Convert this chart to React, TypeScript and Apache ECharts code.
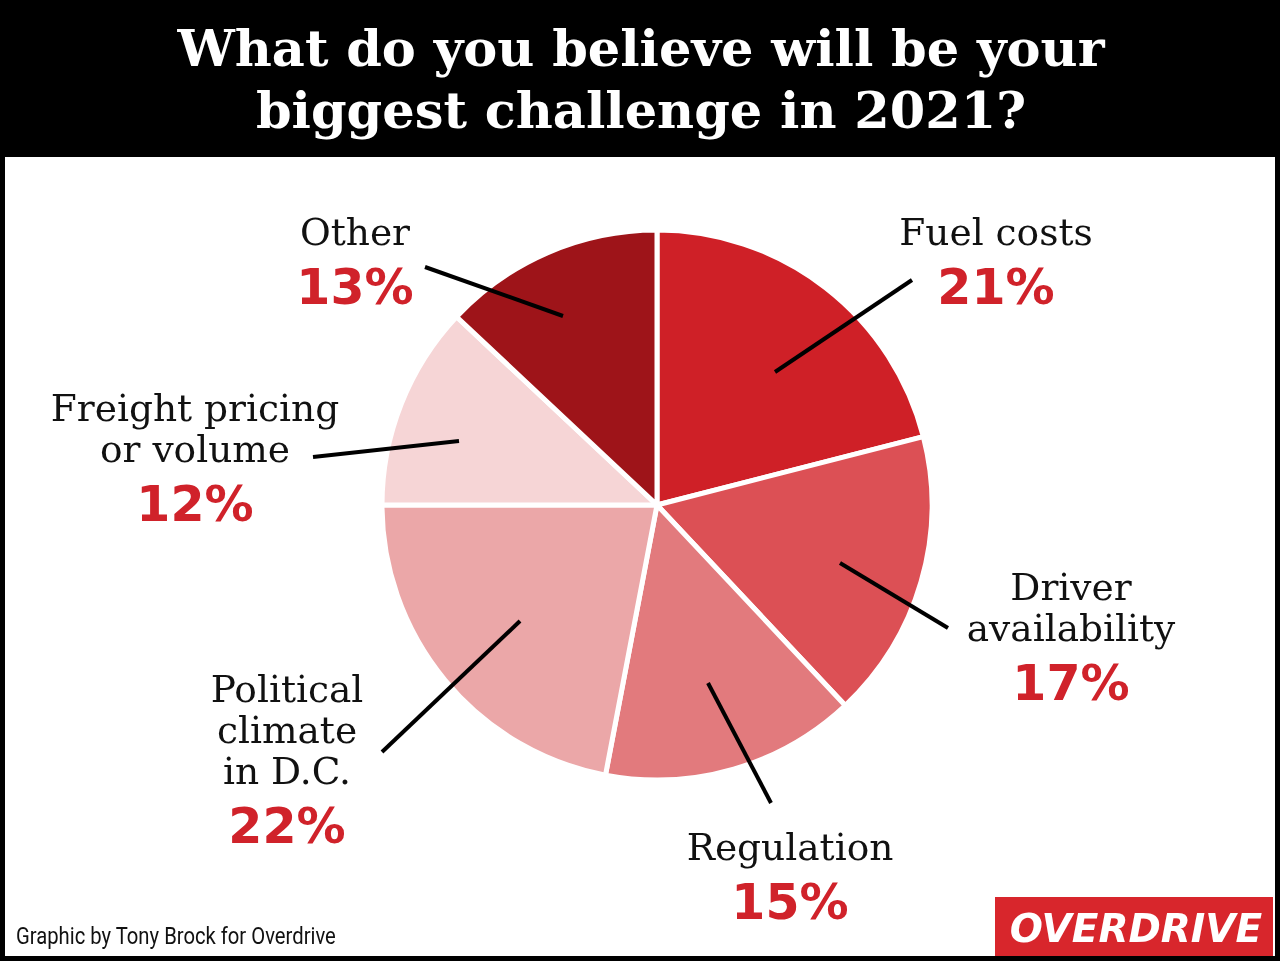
import React, { useEffect, useRef } from "react";
import * as echarts from "echarts";

const categories = ["Fuel costs", "Driver availability", "Regulation", "Political climate in D.C.", "Freight pricing or volume", "Other"];
const values = [21, 17, 15, 22, 12, 13];
const labelLines = [["Fuel costs"], ["Driver", "availability"], ["Regulation"], ["Political", "climate", "in D.C."], ["Freight pricing", "or volume"], ["Other"]];
const sliceColors = ["#cf2027", "#dc5055", "#e27a7d", "#eba7a8", "#f6d5d6", "#9e1419"];
const titleLines = ["What do you believe will be your", "biggest challenge in 2021?"];
const credit = "Graphic by Tony Brock for Overdrive";
const logoText = "OVERDRIVE";

// layout (label anchors and leader-line ends), px
const CX = 657, CY = 505, R = 275;
const labelLayout = [
  { x: 996, y: 232, line: [[775, 372], [912, 280]] },
  { x: 1071, y: 587, line: [[840, 563], [948, 628]] },
  { x: 790, y: 847, line: [[708, 683], [771, 803]] },
  { x: 287, y: 689, line: [[520, 621], [382, 752]] },
  { x: 195, y: 408, line: [[459, 441], [313, 457]] },
  { x: 355, y: 232, line: [[563, 316], [425, 267]] },
];
const LINE_GAP = 41;

export default function App() {
  const ref = useRef<HTMLDivElement>(null);
  useEffect(() => {
    const chart = echarts.init(ref.current!, null, { renderer: "svg", width: 1280, height: 961 });
    const graphics: any[] = [
      { type: "rect", shape: { x: 0, y: 0, width: 1280, height: 961 }, style: { fill: "#000" }, z: -10 },
      { type: "rect", shape: { x: 5, y: 157, width: 1270, height: 799 }, style: { fill: "#fff" }, z: -9 },
    ];
    titleLines.forEach((t, i) => {
      graphics.push({
        type: "text", x: 641, y: 48 + i * 62, z: 10,
        style: { text: t, fill: "#fff", font: "bold 51px 'DejaVu Serif'", align: "center", verticalAlign: "middle" },
      });
    });
    categories.forEach((c, i) => {
      const L = labelLayout[i];
      labelLines[i].forEach((ln, j) => {
        graphics.push({
          type: "text", x: L.x, y: L.y + j * LINE_GAP, z: 10,
          style: { text: ln, fill: "#111", font: "37.5px 'DejaVu Serif'", align: "center", verticalAlign: "middle" },
        });
      });
      graphics.push({
        type: "text", x: L.x, y: L.y + labelLines[i].length * LINE_GAP + 14, z: 10,
        style: { text: values[i] + "%", fill: "#d0222a", font: "bold 49px 'DejaVu Sans'", align: "center", verticalAlign: "middle" },
      });
      graphics.push({
        type: "line", z: 20,
        shape: { x1: L.line[0][0], y1: L.line[0][1], x2: L.line[1][0], y2: L.line[1][1] },
        style: { stroke: "#000", lineWidth: 4 },
      });
    });
    graphics.push({
      type: "text", x: 16, y: 936, z: 10, scaleX: 0.88,
      style: { text: credit, fill: "#111", font: "23px Roboto", verticalAlign: "middle" },
    });
    graphics.push({ type: "rect", shape: { x: 995, y: 897, width: 278, height: 59 }, style: { fill: "#d8262c" }, z: 10 });
    graphics.push({
      type: "text", x: 1136, y: 928, z: 11,
      style: { text: logoText, fill: "#fff", font: "italic bold 39px 'DejaVu Sans'", align: "center", verticalAlign: "middle" },
    });

    chart.setOption({
      animation: false,
      graphic: graphics,
      series: [
        {
          type: "pie",
          center: [CX, CY],
          radius: R,
          startAngle: 90,
          clockwise: true,
          label: { show: false },
          labelLine: { show: false },
          itemStyle: { borderColor: "#fff", borderWidth: 5 },
          emphasis: { disabled: true },
          data: categories.map((c, i) => ({ name: c, value: values[i], itemStyle: { color: sliceColors[i] } })),
        },
      ],
    });
    return () => chart.dispose();
  }, []);
  return <div ref={ref} style={{ position: "fixed", left: 0, top: 0, width: 1280, height: 961 }} />;
}
